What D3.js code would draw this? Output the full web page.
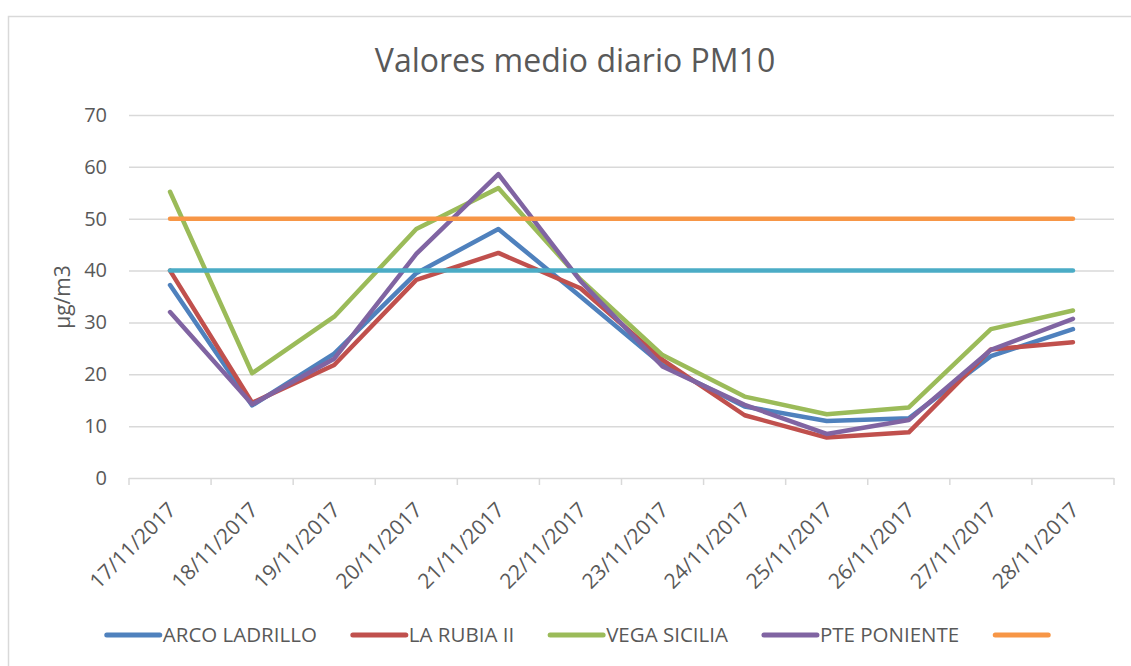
<!DOCTYPE html>
<html>
<head>
<meta charset="utf-8">
<script src="https://cdn.jsdelivr.net/npm/d3@7"></script>
<style>
	body { margin: 0; background: white; }
	text { font-family: 'Open Sans', sans-serif; fill: #595959; }
</style>
</head>
<body>
<script>
// categories along the x axis
var dates = ['17/11/2017', '18/11/2017', '19/11/2017', '20/11/2017', '21/11/2017', '22/11/2017',
	'23/11/2017', '24/11/2017', '25/11/2017', '26/11/2017', '27/11/2017', '28/11/2017'];

// daily means per station
var arco = [37.2, 14.0, 24.0, 39.5, 48.0, 35.0, 21.8, 13.8, 11.0, 11.5, 23.5, 28.7],
	rubia = [40.0, 14.5, 21.8, 38.2, 43.4, 36.6, 22.8, 12.1, 7.8, 8.8, 24.8, 26.2],
	vega = [55.2, 20.2, 31.1, 48.0, 55.9, 38.3, 23.7, 15.7, 12.3, 13.6, 28.7, 32.3],
	poniente = [32.0, 14.2, 23.0, 43.2, 58.6, 38.0, 21.5, 14.1, 8.5, 11.2, 24.7, 30.7],
// reference limits
	limit50 = [50, 50, 50, 50, 50, 50, 50, 50, 50, 50, 50, 50],
	limit40 = [40, 40, 40, 40, 40, 40, 40, 40, 40, 40, 40, 40];

var yTicks = [0, 10, 20, 30, 40, 50, 60, 70];

// series in drawing order, the last one has no legend entry
var series = [
	{name: 'ARCO LADRILLO', values: arco, color: '#4F81BD'},
	{name: 'LA RUBIA II', values: rubia, color: '#C0504D'},
	{name: 'VEGA SICILIA', values: vega, color: '#9BBB59'},
	{name: 'PTE PONIENTE', values: poniente, color: '#8064A2'},
	{name: '', values: limit50, color: '#F79646'},
	{name: null, values: limit40, color: '#4BACC6'}
];

// plot area (note: 'top' is taken by window.top, so prefix everything)
var W = 1131, H = 666,
	p_left = 129, p_right = 1114, p_top = 115, p_bottom = 478,
	grid = '#d9d9d9';

var svg = d3.select('body').append('svg')
	.attr('width', W)
	.attr('height', H);

// outer chart border
svg.append('rect')
	.attr('x', 8.5)
	.attr('y', 16.5)
	.attr('width', 1140)
	.attr('height', 700)
	.attr('fill', 'white')
	.attr('stroke', grid)
	.attr('stroke-width', 1.5);

var x = d3.scaleBand().domain(dates).range([p_left, p_right]);
var y = d3.scaleLinear().domain([0, 70]).range([p_bottom, p_top]);

// title
svg.append('text')
	.text('Valores medio diario PM10')
	.attr('x', 575)
	.attr('y', 72)
	.attr('text-anchor', 'middle')
	.attr('font-size', 32);

// y axis with gridlines
var yAxis = svg.append('g')
	.attr('transform', 'translate(' + p_left + ',0)')
	.call(d3.axisLeft(y).tickValues(yTicks).tickSize(-(p_right - p_left)).tickPadding(22));
yAxis.select('.domain').remove();
yAxis.selectAll('line').attr('stroke', grid).attr('stroke-width', 1.5);
yAxis.selectAll('text')
	.attr('font-size', 20)
	.attr('font-family', "'Open Sans', sans-serif")
	.attr('fill', '#595959');

// y axis title
svg.append('text')
	.text('µg/m3')
	.attr('transform', 'translate(70,297) rotate(-90)')
	.attr('text-anchor', 'middle')
	.attr('font-size', 21);

// tick marks sit on the category boundaries
var bounds = dates.map(function(d) { return x(d); }).concat([p_right]);
svg.selectAll('.xtick')
	.data(bounds)
	.enter().append('line')
	.attr('class', 'xtick')
	.attr('x1', function(d) { return d; })
	.attr('x2', function(d) { return d; })
	.attr('y1', p_bottom)
	.attr('y2', p_bottom + 7)
	.attr('stroke', grid)
	.attr('stroke-width', 1.5);

// rotated category labels
svg.selectAll('.xlabel')
	.data(dates)
	.enter().append('text')
	.attr('class', 'xlabel')
	.text(function(d) { return d; })
	.attr('text-anchor', 'end')
	.attr('dy', '0.35em')
	.attr('font-size', 21)
	.attr('transform', function(d) {
		return 'translate(' + (x(d) + x.bandwidth() / 2 + 2) + ',' + (p_bottom + 28) + ') rotate(-45)';
	});

// the lines
var line = d3.line()
	.x(function(d, i) { return x(dates[i]) + x.bandwidth() / 2; })
	.y(function(d) { return y(d); });

series.forEach(function(s) {
	svg.append('path')
		.attr('d', line(s.values))
		.attr('fill', 'none')
		.attr('stroke', s.color)
		.attr('stroke-width', 4.5)
		.attr('stroke-linecap', 'round')
		.attr('stroke-linejoin', 'round');
});

// legend, centred under the chart
var legend = svg.append('g'),
	lx = 0;
series.filter(function(s) { return s.name !== null; }).forEach(function(s) {
	legend.append('line')
		.attr('x1', lx + 2)
		.attr('x2', lx + 55)
		.attr('y1', 635)
		.attr('y2', 635)
		.attr('stroke', s.color)
		.attr('stroke-width', 5)
		.attr('stroke-linecap', 'round');
	var t = legend.append('text')
		.text(s.name)
		.attr('x', lx + 58)
		.attr('y', 635)
		.attr('dy', '0.35em')
		.attr('font-size', 20.5);
	lx += 58 + t.node().getComputedTextLength() + 34;
});
lx -= 34;
legend.attr('transform', 'translate(' + (578 - lx / 2) + ',0)');
</script>
</body>
</html>
